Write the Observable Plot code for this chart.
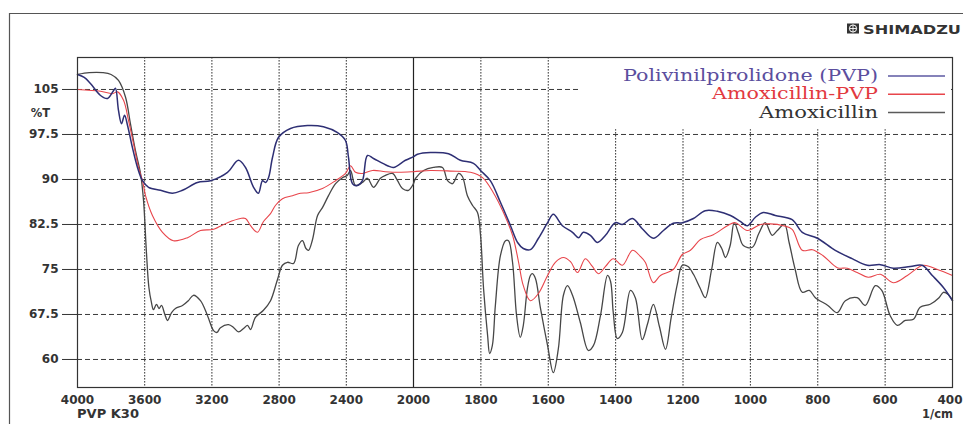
<!DOCTYPE html>
<html>
<head>
<meta charset="utf-8">
<script src="https://cdn.jsdelivr.net/npm/d3@7"></script>
<script src="https://cdn.jsdelivr.net/npm/@observablehq/plot@0.6"></script>
<style>
  html, body { margin: 0; padding: 0; background: #fff; }
  svg { display: block; }
</style>
</head>
<body>
<div id="chart"></div>
<script>
// ---- Data (wavenumber in 1/cm, transmittance in %T) ----
const seriesNames = ["Polivinilpirolidone (PVP)", "Amoxicillin-PVP", "Amoxicillin"];

const pvpWn = [4000,3960,3923,3863,3821,3786,3774,3756,3738,3720,3702,3673,3643,3613,3577,3506,3435,3375,3286,3208,3107,3042,3000,2952,2923,2899,2881,2863,2839,2804,2732,2631,2536,2452,2405,2387,2363,2333,2304,2274,2238,2155,2119,2048,2000,1988,1950,1896,1861,1822,1801,1772,1742,1712,1691,1674,1653,1629,1602,1585,1558,1528,1510,1496,1475,1454,1430,1401,1380,1350,1321,1288,1258,1229,1202,1169,1134,1098,1059,1030,1009,985,962,926,876,846,801,748,698,653,614,576,525,490,460,427,400];
const pvpT  = [107.5,107,106,104,103.5,104.8,105.2,101.5,99.3,100.7,99,95.3,92,89.8,88.7,88.2,87.7,88.2,89.5,89.8,91.2,93.2,92,88.7,87.7,89.8,89.5,90.3,93.7,97,98.5,99,98.8,97.8,96.5,93.7,89.3,89,89.8,94,93.5,92.3,92,93.2,93.8,94.2,94.5,94.3,93.2,92.7,91.5,89.8,86.2,82.3,79.5,78.5,78.3,80.2,82.8,84.2,82.3,81.2,80.3,81.2,80.7,79.5,80.7,82.8,82.5,83.5,81.8,80.2,81.5,82.7,82.8,83.5,84.8,84.7,84,83,82.3,83.7,84.5,84,83.3,81.2,80.2,78.2,76.8,75.7,75.8,75.2,75.5,75.7,74,72,69.8];

const amxPvpWn = [4000,3863,3792,3762,3726,3696,3667,3637,3613,3595,3554,3494,3429,3345,3268,3190,3107,3030,3000,2970,2929,2893,2851,2821,2780,2720,2673,2625,2542,2464,2405,2375,2345,2304,2244,2167,2089,2000,1950,1890,1831,1795,1763,1733,1706,1688,1674,1653,1629,1602,1579,1555,1534,1513,1490,1469,1451,1430,1407,1380,1350,1327,1312,1288,1267,1229,1202,1178,1148,1110,1068,1045,1009,970,941,902,876,846,816,784,742,712,683,650,614,576,534,487,445,400];
const amxPvpT  = [105,104.7,104.3,104.6,103.2,99.8,96,92,89.8,87.3,84,81.2,79.8,80.3,81.5,81.7,82.8,83.5,83.5,82.3,81.2,83,84.3,85.7,86.8,87.3,87.7,87.8,88.5,89.8,91,92.3,91.2,91,91.5,91.3,91.2,91.3,91.5,91.4,91.2,90.3,87.8,84.5,80.7,76.2,72.3,69.8,71,74,76.2,77,76.3,74.5,76.8,75.5,74.3,75.5,76.8,75.7,78.2,77.2,76.2,72.8,74,75,77.5,78.2,80,80.8,82.3,82.8,81.5,82.5,82.6,82.3,81.7,78.2,78.3,77.3,75.3,75.2,74.5,73.7,74.2,72.8,74,75.7,75,74];

const amxWn = [4000,3930,3850,3800,3756,3714,3685,3655,3625,3607,3590,3575,3560,3548,3530,3515,3500,3480,3464,3440,3417,3375,3340,3310,3268,3226,3190,3170,3149,3101,3070,3042,3010,2988,2970,2941,2893,2851,2810,2780,2750,2714,2685,2661,2640,2625,2601,2571,2542,2506,2464,2423,2393,2375,2345,2304,2274,2238,2197,2167,2125,2095,2066,2030,2000,1994,1970,1941,1914,1899,1884,1866,1855,1840,1825,1810,1801,1792,1780,1774,1766,1757,1742,1727,1718,1706,1694,1683,1674,1662,1653,1647,1638,1623,1602,1585,1570,1555,1543,1528,1505,1481,1466,1445,1424,1415,1407,1395,1380,1356,1341,1321,1305,1288,1270,1252,1235,1217,1202,1185,1169,1150,1134,1115,1098,1085,1074,1060,1048,1035,1021,994,975,956,935,920,899,885,867,846,825,807,770,742,718,683,659,629,610,585,564,540,516,496,466,440,427,412,400];
const amxT  = [107.5,107.8,107.8,107.5,106.5,103.7,99.3,94.8,91,86.5,78,72,69.5,68.3,69.2,68.5,69,67.5,66.5,67.8,68.5,69,69.8,70.7,69.8,67.3,64.8,64.5,65.3,65.8,65.3,64.6,65.2,65.7,65,67,68.2,69.8,73.3,75.7,76.2,76,79,79.8,78.5,78.2,80,84,85.3,87.3,89.3,90.3,90.7,91.5,89,89.5,90.2,88.7,90.2,90.7,91,89.8,88.5,88.2,89.3,90.2,91.5,92,92,89.8,89.3,91,90.5,87.3,85.7,84.5,80.7,71.8,64,61,62.3,69,77.3,79.8,79.8,76.2,67.3,63.7,65.7,71.8,74,74.3,73.5,68.5,62.3,57.8,61.8,70.7,72.3,70.7,66.2,61.5,62.3,67.3,74,73,67.8,63.5,64.5,71.5,70.2,63.3,66,69.2,65.5,61.7,67,72.5,75.7,75.5,74.2,72,70.3,75,79.5,78.5,77,79,82.8,81,79,78.7,81,82.8,80.7,81.5,82.5,79.5,75,71.2,71.5,70.3,69,67.8,69.8,70.3,69,72.3,71.5,67.3,65.7,66.5,66.7,68.7,69.2,70.3,71.2,70.8,69.8];

const xTicks = [4000,3600,3200,2800,2400,2000,1800,1600,1400,1200,1000,800,600,400];
const yTicks = [60,67.5,75,82.5,90,97.5,105];

const lineColors = ["#2e2f74", "#e8454b", "#474747"];
const legendTextColors = ["#5b4e9e", "#e2393f", "#333333"];
const legendLineColors = ["#5c58a2", "#e8454b", "#5a5a5a"];

// ---- Tidy rows built from the arrays ----
const rows = [];
[[pvpWn, pvpT], [amxPvpWn, amxPvpT], [amxWn, amxT]].forEach(([wn, t], i) => {
  wn.forEach((w, j) => rows.push({wn: w, t: t[j], series: seriesNames[i]}));
});

// ---- Layout ----
const W = 963, H = 424;
const F = {l: 77, r: 952, t: 57, b: 387};

const chart = Plot.plot({
  width: W, height: H,
  marginLeft: F.l, marginRight: W - F.r, marginTop: F.t, marginBottom: H - F.b,
  style: {background: "#fff", fontFamily: "DejaVu Sans, sans-serif", color: "#333"},
  x: {type: "linear", domain: [4000, 2000, 400], range: [F.l, 413, F.r]},
  y: {domain: [55.33, 110.33], range: [F.b, F.t]},
  marks: [
    Plot.ruleY(yTicks, {stroke: "#3a3a3a", strokeWidth: 1, strokeDasharray: "5,3"}),
    Plot.ruleX(xTicks.filter(d => d !== 2000 && d !== 4000 && d !== 400), {stroke: "#333", strokeWidth: 1, strokeDasharray: "1.6,1.4"}),
    Plot.ruleX([2000], {stroke: "#222", strokeWidth: 1.2}),
    Plot.line(rows.filter(d => d.series === seriesNames[2]), {x: "wn", y: "t", stroke: lineColors[2], strokeWidth: 1.3, curve: "catmull-rom"}),
    Plot.line(rows.filter(d => d.series === seriesNames[1]), {x: "wn", y: "t", stroke: lineColors[1], strokeWidth: 1.1, curve: "catmull-rom"}),
    Plot.line(rows.filter(d => d.series === seriesNames[0]), {x: "wn", y: "t", stroke: lineColors[0], strokeWidth: 1.5, curve: "catmull-rom"}),
    Plot.frame({stroke: "#333", strokeWidth: 1.2}),
    Plot.axisY(yTicks, {tickSize: 15, tickPadding: 4, fontSize: 12, fontWeight: "bold", tickFormat: d => String(d), label: null, stroke: "#333", fill: "#333"}),
    Plot.axisX(xTicks, {tickSize: 0, tickPadding: 8, fontSize: 12, fontWeight: "bold", tickFormat: d => String(d), label: null, fill: "#333"})
  ]
});

document.getElementById("chart").appendChild(chart);

// ---- Annotations (legend, units, logo, outer frame) ----
const svg = d3.select(chart);
const sx = v => chart.scale("x").apply(v);
const sy = v => chart.scale("y").apply(v);

// keep the last tick label ("400") inside the picture
svg.selectAll("text").filter(function () { return this.textContent === "400"; }).attr("dx", -2.5);

// white legend background hiding the grid behind it
const boxL = sx(1510), boxB = sy(98.3);
svg.insert("rect", "g[aria-label='line']")
  .attr("x", boxL).attr("y", F.t + 1)
  .attr("width", F.r - 1 - boxL).attr("height", boxB - F.t - 1)
  .attr("fill", "#fff");

const legendY = [81, 99.3, 117.5];
const legendLen = [255, 166, 119];
const lg = svg.append("g");
seriesNames.forEach((name, i) => {
  lg.append("text")
    .attr("x", 878).attr("y", legendY[i])
    .attr("text-anchor", "end")
    .attr("font-family", "DejaVu Serif, serif")
    .attr("font-size", 16)
    .attr("textLength", legendLen[i])
    .attr("lengthAdjust", "spacingAndGlyphs")
    .attr("fill", legendTextColors[i])
    .text(name);
  lg.append("line")
    .attr("x1", 888).attr("x2", 945)
    .attr("y1", legendY[i] - 5).attr("y2", legendY[i] - 5)
    .attr("stroke", legendLineColors[i]).attr("stroke-width", 1.4);
});

const txt = (x, y, s, anchor, len) => {
  const t = svg.append("text").attr("x", x).attr("y", y)
    .attr("text-anchor", anchor)
    .attr("font-family", "DejaVu Sans, sans-serif")
    .attr("font-weight", "bold").attr("font-size", 11.5)
    .attr("fill", "#333").text(s);
  if (len) t.attr("textLength", len).attr("lengthAdjust", "spacingAndGlyphs");
  return t;
};
txt(50, 117, "%T", "end");
txt(F.l, 418, "PVP K30", "start", 62);
txt(F.r + 1, 418, "1/cm", "end");

// logo
const logo = svg.append("g");
logo.append("rect").attr("x", 847).attr("y", 23.5).attr("width", 12).attr("height", 10).attr("fill", "#333");
logo.append("circle").attr("cx", 853).attr("cy", 28.5).attr("r", 3.6).attr("fill", "none").attr("stroke", "#fff").attr("stroke-width", 1);
logo.append("line").attr("x1", 853).attr("x2", 853).attr("y1", 24.9).attr("y2", 32.1).attr("stroke", "#fff").attr("stroke-width", 0.9);
logo.append("line").attr("x1", 849.4).attr("x2", 856.6).attr("y1", 28.5).attr("y2", 28.5).attr("stroke", "#fff").attr("stroke-width", 0.9);
txt(863, 33.5, "SHIMADZU", "start", 98).attr("font-size", 12).attr("font-weight", 900);

// outer frame
svg.append("path").attr("d", `M9.5,${H} V13.5 H${W}`).attr("fill", "none").attr("stroke", "#555").attr("stroke-width", 1.2);
</script>
</body>
</html>
